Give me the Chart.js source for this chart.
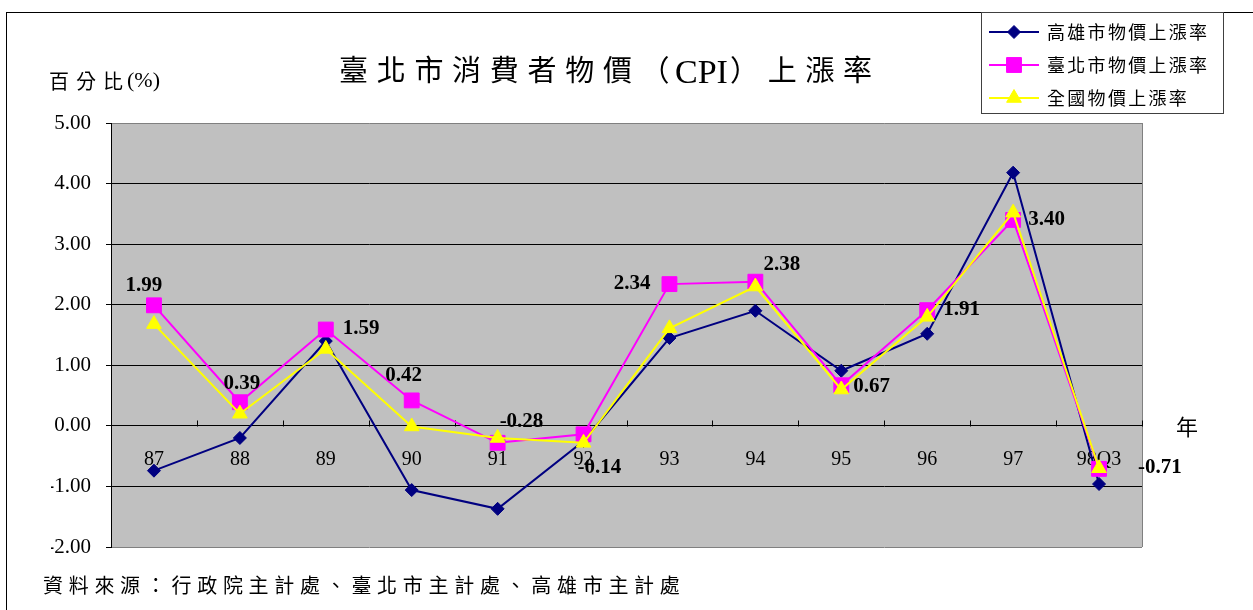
<!DOCTYPE html>
<html>
<head>
<meta charset="utf-8">
<script src="https://cdn.jsdelivr.net/npm/chart.js@4/dist/chart.umd.min.js"></script>
<style>
  html, body { margin: 0; padding: 0; background: #fff; }
  #wrap { width: 1253px; height: 610px; position: relative; }
</style>
</head>
<body>
<div id="wrap"><canvas id="c" width="1253" height="610"></canvas></div>
<script>
// ---- data ----
const categories = ['87', '88', '89', '90', '91', '92', '93', '94', '95', '96', '97', '98Q3'];
const kaohsiungCPI = [-0.74, -0.20, 1.40, -1.06, -1.37, -0.25, 1.45, 1.90, 0.91, 1.52, 4.18, -0.96];
const taipeiCPI = [1.99, 0.39, 1.59, 0.42, -0.28, -0.14, 2.34, 2.38, 0.67, 1.91, 3.40, -0.71];
const nationalCPI = [1.68, 0.20, 1.27, -0.01, -0.20, -0.28, 1.61, 2.30, 0.60, 1.80, 3.52, -0.70];
const seriesNames = ['高雄市物價上漲率', '臺北市物價上漲率', '全國物價上漲率'];
const yMin = -2, yMax = 5, yStep = 1;
const titlePartA = '臺北市消費者物價（';
const titlePartB = 'CPI';
const titlePartC = '）上漲率';
const yTitleMain = '百分比';
const yTitleUnit = '(%)';
const xTitleText = '年';
const sourceText = '資料來源：行政院主計處、臺北市主計處、高雄市主計處';

// ---- label placement styles for the Taipei value labels ----
const labelAlign = ['center', 'center', 'left', 'center', 'left', 'left', 'right', 'left', 'left', 'left', 'left', 'left'];
const labelDx = [-10, 2, 17, -8, 2, -6, -19, 8, 12, 16, 15, 39];
const labelDy = [-20, -19, -1, -25, -21, 33, -1, -17, 1, -1, 0, -1];

const SERIF = "'Liberation Serif', 'Times New Roman', serif";
const CJKF = "'Noto Sans CJK TC', 'Noto Sans CJK SC', sans-serif";

const colors = ['#000080', '#FF00FF', '#FFFF00'];
const pStyles = ['rectRot', 'rect', 'triangle'];
const pRadius = [6.5, 10.5, 8.5];

function drawMarker(ctx, style, x, y, r, color) {
  ctx.save();
  ctx.fillStyle = color;
  ctx.strokeStyle = color;
  ctx.beginPath();
  if (style === 'rect') {
    const s = Math.SQRT1_2 * r;
    ctx.rect(x - s, y - s, 2 * s, 2 * s);
  } else if (style === 'rectRot') {
    ctx.moveTo(x - r, y); ctx.lineTo(x, y - r); ctx.lineTo(x + r, y); ctx.lineTo(x, y + r); ctx.closePath();
  } else {
    const a = 2 * Math.PI / 3;
    ctx.moveTo(x, y - r);
    ctx.lineTo(x + Math.sin(a) * r, y - Math.cos(a) * r);
    ctx.lineTo(x + Math.sin(2 * a) * r, y - Math.cos(2 * a) * r);
    ctx.closePath();
  }
  ctx.fill();
  ctx.stroke();
  ctx.restore();
}

function spacedText(ctx, text, x, y, font, spacing, align, baseline) {
  ctx.save();
  ctx.font = font;
  ctx.letterSpacing = spacing + 'px';
  ctx.textAlign = align || 'left';
  ctx.textBaseline = baseline || 'middle';
  ctx.fillStyle = '#000';
  ctx.fillText(text, x, y);
  ctx.restore();
}

const decorPlugin = {
  id: 'decor',
  beforeDraw(chart) {
    const { ctx, chartArea: a } = chart;
    ctx.save();
    ctx.fillStyle = '#fff';
    ctx.fillRect(0, 0, chart.width, chart.height);
    ctx.fillStyle = '#C0C0C0';
    ctx.fillRect(a.left, a.top, a.right - a.left, a.bottom - a.top);
    ctx.strokeStyle = '#808080';
    ctx.lineWidth = 1;
    ctx.beginPath();
    ctx.moveTo(Math.round(a.right) + 0.5, a.top);
    ctx.lineTo(Math.round(a.right) + 0.5, a.bottom);
    ctx.stroke();
    ctx.restore();
  },
  beforeDatasetsDraw(chart) {
    // upward tick marks on the zero line at category boundaries
    const { ctx, scales: { x, y } } = chart;
    const y0 = Math.round(y.getPixelForValue(0)) + 0.5;
    ctx.save();
    ctx.strokeStyle = '#000';
    ctx.lineWidth = 1;
    ctx.beginPath();
    for (let i = 0; i <= categories.length; i++) {
      const px = Math.round(x.getPixelForValue(i - 0.5)) + 0.5;
      ctx.moveTo(px, y0);
      ctx.lineTo(px, y0 - 6);
    }
    ctx.stroke();
    ctx.restore();
  },
  afterDatasetsDraw(chart) {
    const { ctx } = chart;
    const meta = chart.getDatasetMeta(1);
    ctx.save();
    ctx.font = 'bold 21px ' + SERIF;
    ctx.fillStyle = '#000';
    ctx.textBaseline = 'middle';
    meta.data.forEach((pt, i) => {
      ctx.textAlign = labelAlign[i];
      ctx.fillText(taipeiCPI[i].toFixed(2), pt.x + labelDx[i], pt.y + labelDy[i]);
    });
    ctx.restore();
  },
  afterDraw(chart) {
    const { ctx } = chart;
    // outer frame
    ctx.save();
    ctx.strokeStyle = '#000';
    ctx.lineWidth = 1;
    ctx.strokeRect(6.5, 12.5, 1400, 800);
    ctx.restore();

    // title (three runs: CJK, Latin, CJK)
    spacedText(ctx, titlePartA, 339, 70, '29px ' + CJKF, 8.7, 'left');
    spacedText(ctx, titlePartB, 675, 83, '34px ' + SERIF, 0, 'left', 'alphabetic');
    spacedText(ctx, titlePartC, 730, 70, '29px ' + CJKF, 8.7, 'left');
    // y axis title
    spacedText(ctx, yTitleMain, 49, 81, '20px ' + CJKF, 7, 'left');
    spacedText(ctx, yTitleUnit, 127, 81, '22px ' + SERIF, 0, 'left');
    // x axis title
    spacedText(ctx, xTitleText, 1187, 427, '22px ' + CJKF, 0, 'center');
    // source
    spacedText(ctx, sourceText, 43, 585, '20px ' + CJKF, 5.7, 'left');

    // legend
    const lx = 981, ly = 12, lw = 242, lh = 101;
    ctx.save();
    ctx.fillStyle = '#fff';
    ctx.fillRect(lx, ly, lw, lh);
    ctx.strokeStyle = '#404040';
    ctx.lineWidth = 1;
    ctx.strokeRect(lx + 0.5, ly + 0.5, lw, lh);
    ctx.restore();
    const rowsY = [32, 65, 98];
    seriesNames.forEach((name, i) => {
      ctx.save();
      ctx.strokeStyle = colors[i];
      ctx.lineWidth = 2;
      ctx.beginPath();
      ctx.moveTo(989, rowsY[i]);
      ctx.lineTo(1039, rowsY[i]);
      ctx.stroke();
      ctx.restore();
      drawMarker(ctx, pStyles[i], 1014, rowsY[i], pRadius[i], colors[i]);
      spacedText(ctx, name, 1047, rowsY[i], '18px ' + CJKF, 2.3, 'left');
    });
  }
};

const datasets = [kaohsiungCPI, taipeiCPI, nationalCPI].map((vals, i) => ({
  label: seriesNames[i],
  data: vals,
  borderColor: colors[i],
  backgroundColor: colors[i],
  borderWidth: 2,
  tension: 0,
  pointStyle: pStyles[i],
  pointRadius: pRadius[i],
  pointBorderWidth: 1,
  pointBorderColor: colors[i],
  pointBackgroundColor: colors[i],
  order: 3 - i,
  clip: false
}));

new Chart(document.getElementById('c'), {
  type: 'line',
  data: { labels: categories, datasets },
  options: {
    responsive: false,
    animation: false,
    events: [],
    layout: { padding: { left: 51, right: 111, top: 123, bottom: 63 } },
    plugins: { legend: { display: false }, title: { display: false }, tooltip: { enabled: false } },
    scales: {
      x: {
        type: 'category',
        position: { y: 0 },
        offset: true,
        grid: { display: false, drawTicks: false },
        border: { display: false },
        ticks: { autoSkip: false, maxRotation: 0, minRotation: 0, padding: 22, color: '#000', font: { family: SERIF, size: 20 } }
      },
      y: {
        min: yMin,
        max: yMax,
        afterFit: s => { s.width = 60; },
        ticks: { stepSize: yStep, padding: 15, color: '#000', font: { family: SERIF, size: 21 }, callback: v => Number(v).toFixed(2) },
        grid: {
          color: c => (c.tick && (c.tick.value === yMax || c.tick.value === yMin)) ? '#808080' : '#000',
          lineWidth: 1,
          tickLength: 5,
          tickColor: '#000'
        },
        border: { display: true, color: '#000', width: 1 }
      }
    }
  },
  plugins: [decorPlugin]
});
</script>
</body>
</html>
